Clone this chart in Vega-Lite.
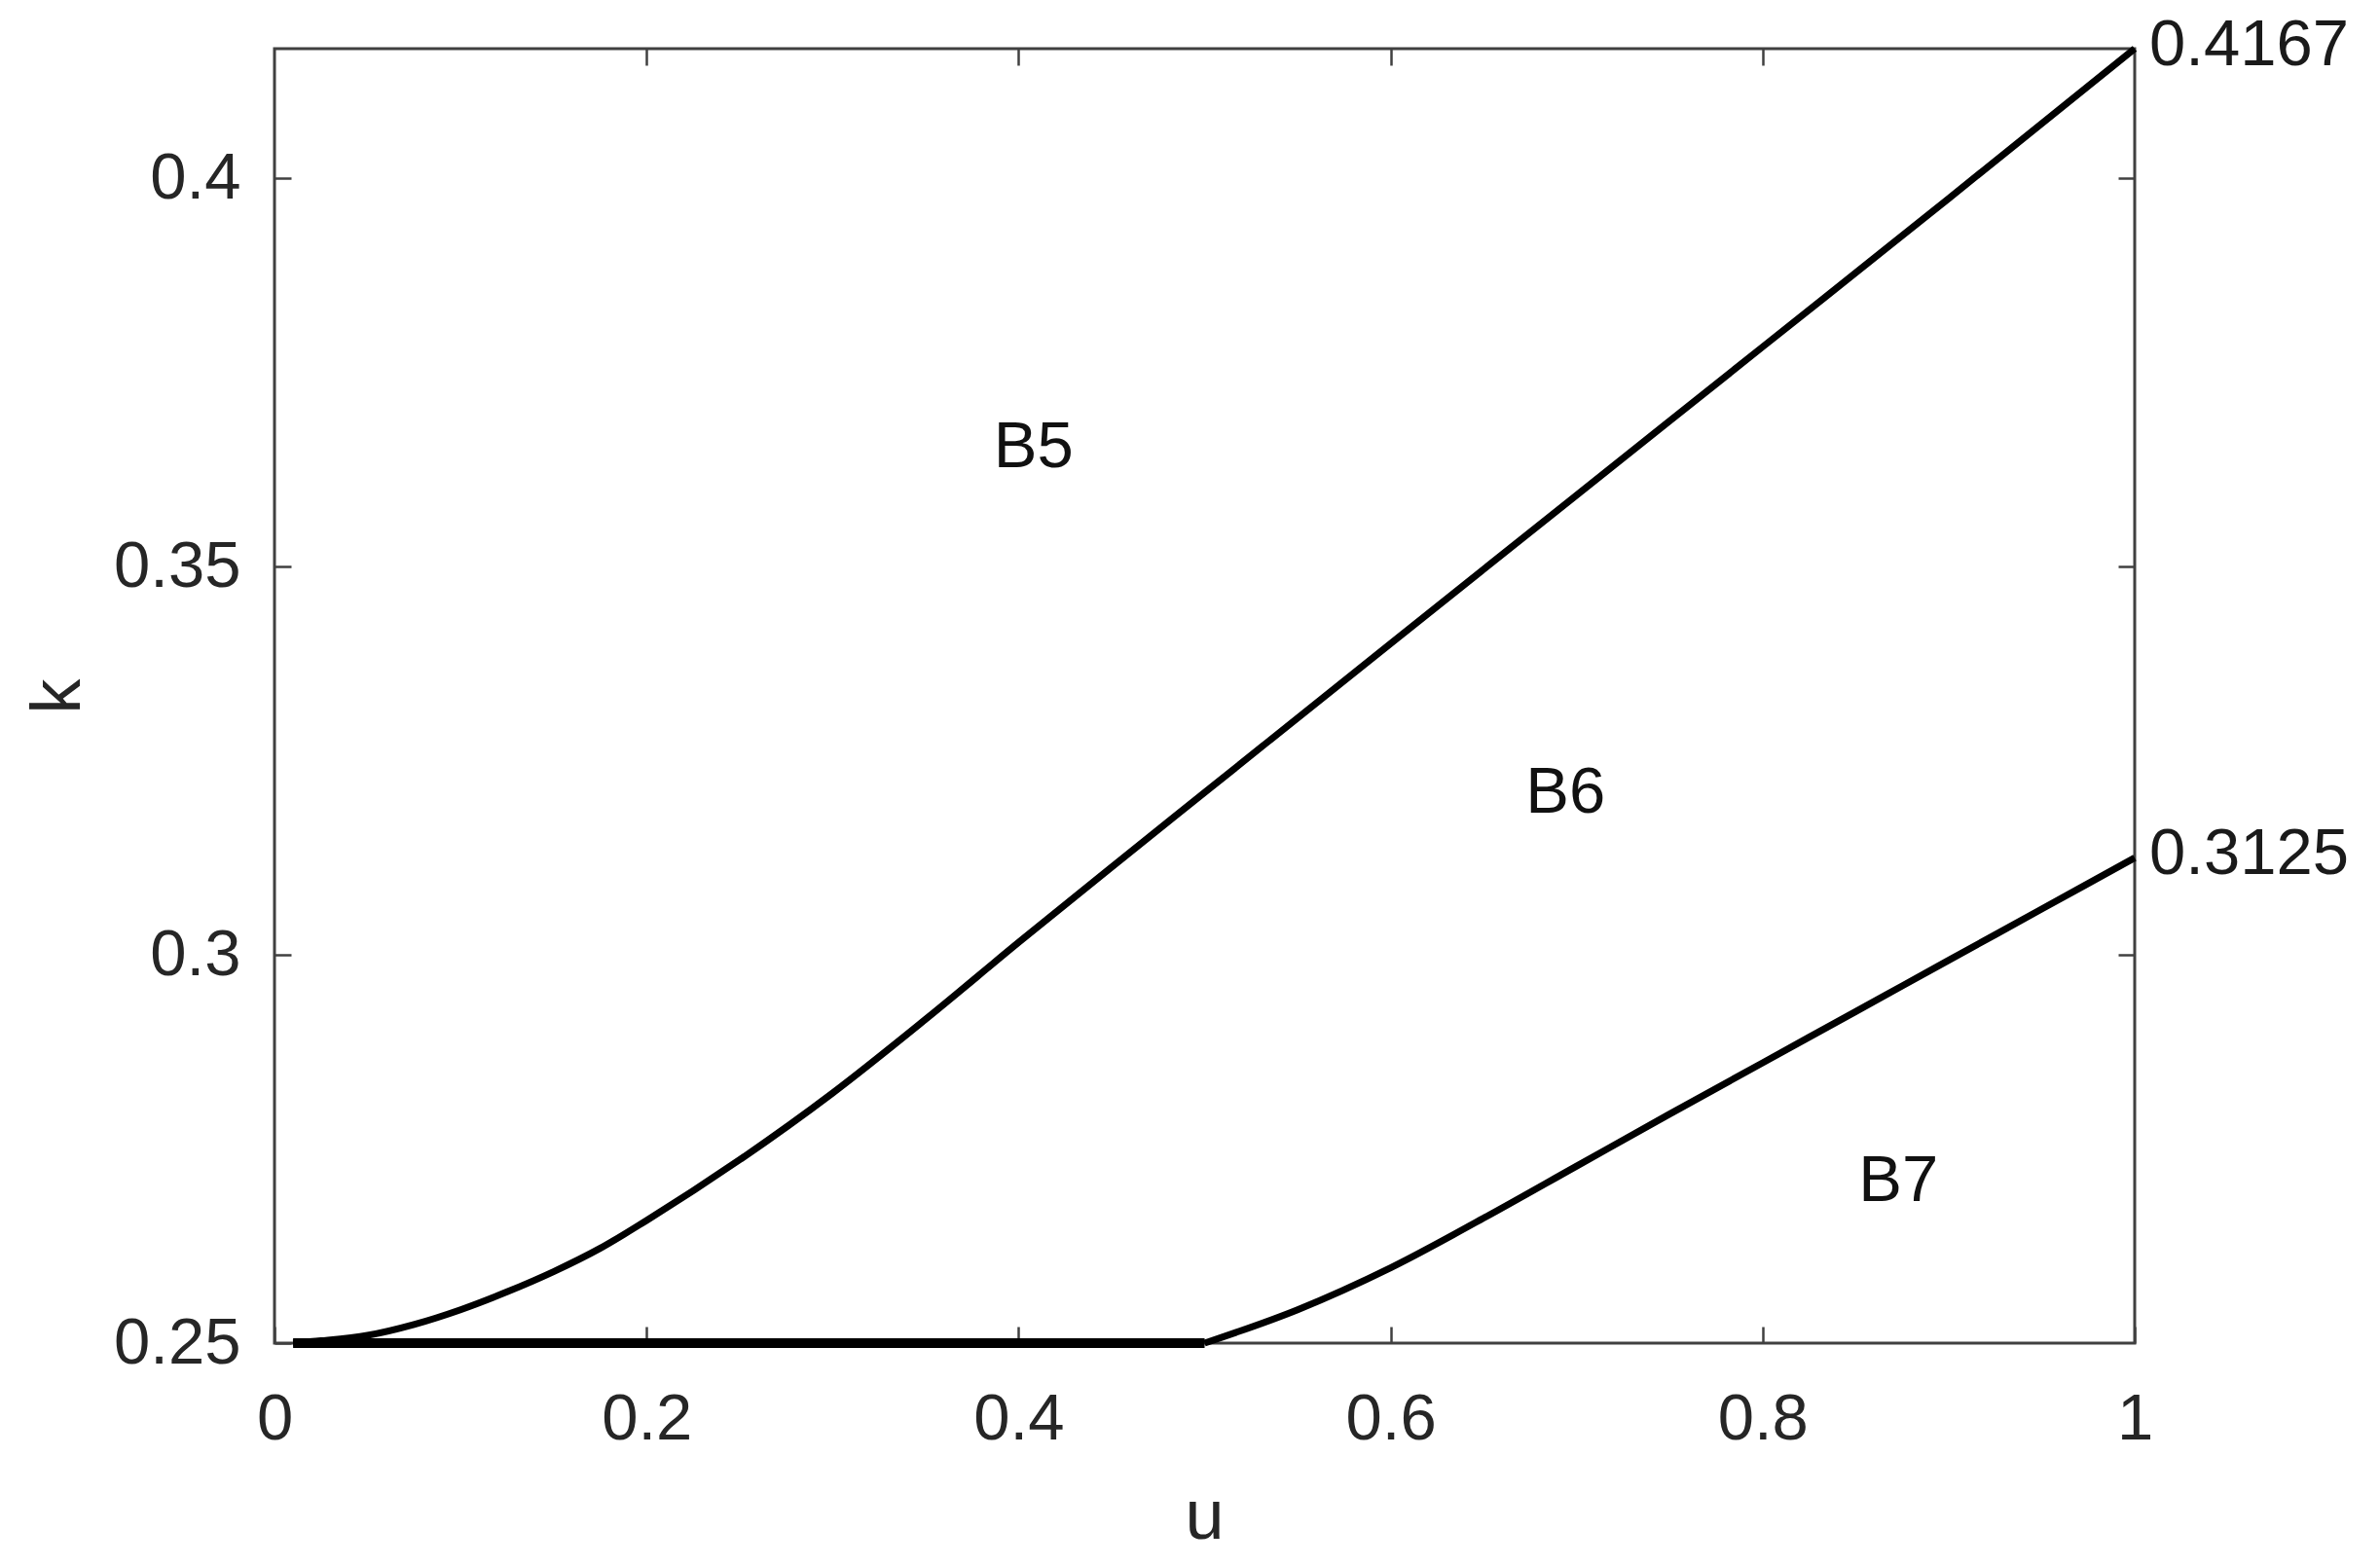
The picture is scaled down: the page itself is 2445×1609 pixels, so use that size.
{
  "$schema": "https://vega.github.io/schema/vega-lite/v6.json",
  "width": 1911,
  "height": 1330,
  "autosize": {"type": "none"},
  "padding": {"left": 282, "top": 50, "right": 252, "bottom": 229},
  "background": "white",
  "config": {
    "view": {"stroke": "#404040", "strokeWidth": 3},
    "font": "Liberation Sans",
    "axis": {
      "domain": false,
      "grid": false,
      "tickColor": "#404040",
      "tickWidth": 2.5,
      "tickSize": -17,
      "labelColor": "#262626",
      "labelFontSize": 67,
      "labelFont": "Liberation Sans",
      "labelFlush": false,
      "titleFont": "Liberation Sans",
      "titleFontSize": 72,
      "titleColor": "#262626",
      "titleFontWeight": "normal"
    }
  },
  "datasets": {
    "curves": [
      {"u": 0.01, "k": 0.25, "series": "upper"},
      {"u": 0.025, "k": 0.2503, "series": "upper"},
      {"u": 0.05, "k": 0.2510, "series": "upper"},
      {"u": 0.075, "k": 0.2524, "series": "upper"},
      {"u": 0.1, "k": 0.2543, "series": "upper"},
      {"u": 0.125, "k": 0.2566, "series": "upper"},
      {"u": 0.15, "k": 0.2592, "series": "upper"},
      {"u": 0.175, "k": 0.2622, "series": "upper"},
      {"u": 0.2, "k": 0.2658, "series": "upper"},
      {"u": 0.25, "k": 0.2736, "series": "upper"},
      {"u": 0.3, "k": 0.2822, "series": "upper"},
      {"u": 0.35, "k": 0.2917, "series": "upper"},
      {"u": 0.4, "k": 0.3016, "series": "upper"},
      {"u": 0.45, "k": 0.3113, "series": "upper"},
      {"u": 0.5, "k": 0.3209, "series": "upper"},
      {"u": 0.6, "k": 0.3401, "series": "upper"},
      {"u": 0.7, "k": 0.3592, "series": "upper"},
      {"u": 0.8, "k": 0.3783, "series": "upper"},
      {"u": 0.9, "k": 0.3974, "series": "upper"},
      {"u": 1.0, "k": 0.4167, "series": "upper"},
      {"u": 0.5, "k": 0.25, "series": "lower"},
      {"u": 0.55, "k": 0.2543, "series": "lower"},
      {"u": 0.6, "k": 0.2597, "series": "lower"},
      {"u": 0.65, "k": 0.2661, "series": "lower"},
      {"u": 0.7, "k": 0.2728, "series": "lower"},
      {"u": 0.75, "k": 0.2795, "series": "lower"},
      {"u": 0.8, "k": 0.2861, "series": "lower"},
      {"u": 0.85, "k": 0.2927, "series": "lower"},
      {"u": 0.9, "k": 0.2993, "series": "lower"},
      {"u": 0.95, "k": 0.3059, "series": "lower"},
      {"u": 1.0, "k": 0.3125, "series": "lower"},
      {"u": 0.01, "k": 0.25, "series": "base"},
      {"u": 0.5, "k": 0.25, "series": "base"}
    ],
    "ends": [
      {"u": 1, "k": 0.4167, "label": "0.4167"},
      {"u": 1, "k": 0.3125, "label": "0.3125"}
    ],
    "regions": [
      {"u": 0.408, "k": 0.3653, "label": "B5"},
      {"u": 0.694, "k": 0.3208, "label": "B6"},
      {"u": 0.873, "k": 0.2708, "label": "B7"}
    ]
  },
  "layer": [
    {
      "data": {"name": "curves"},
      "transform": [{"filter": "datum.series != 'base'"}],
      "mark": {"type": "line", "color": "black", "strokeWidth": 7, "clip": false, "interpolate": "monotone", "strokeJoin": "round"},
      "encoding": {
        "x": {
          "field": "u", "type": "quantitative",
          "scale": {"domain": [0, 1], "nice": false, "zero": false},
          "axis": {
            "orient": "bottom", "values": [0, 0.2, 0.4, 0.6, 0.8, 1], "format": "~g",
            "labelPadding": 62, "labelBaseline": "top",
            "title": "u", "titleBaseline": "alphabetic", "titleY": 200, "titleX": 955
          }
        },
        "y": {
          "field": "k", "type": "quantitative",
          "scale": {"domain": [0.25, 0.4167], "nice": false, "zero": false},
          "axis": {
            "orient": "left", "values": [0.25, 0.3, 0.35, 0.4], "format": "~g",
            "labelPadding": 52, "labelBaseline": "middle",
            "title": "k", "titleAngle": 270, "titleBaseline": "alphabetic", "titleAlign": "center",
            "titleX": -201, "titleY": 665
          }
        },
        "detail": {"field": "series"}
      }
    },
    {
      "data": {"name": "curves"},
      "transform": [{"filter": "datum.series == 'base'"}],
      "mark": {"type": "line", "color": "black", "strokeWidth": 10, "clip": false},
      "encoding": {
        "x": {"field": "u", "type": "quantitative", "axis": null},
        "y": {"field": "k", "type": "quantitative", "axis": null}
      }
    },
    {
      "data": {"name": "ends"},
      "mark": {"type": "text", "align": "left", "baseline": "middle", "dx": 15, "dy": -3, "fontSize": 67, "color": "#1a1a1a", "font": "Liberation Sans"},
      "encoding": {
        "x": {
          "field": "u", "type": "quantitative",
          "axis": {"orient": "top", "values": [0.2, 0.4, 0.6, 0.8], "labels": false, "title": null}
        },
        "y": {
          "field": "k", "type": "quantitative",
          "axis": {"orient": "right", "values": [0.3, 0.35, 0.4], "labels": false, "title": null}
        },
        "text": {"field": "label"}
      }
    },
    {
      "data": {"name": "regions"},
      "mark": {"type": "text", "align": "center", "baseline": "middle", "fontSize": 67, "color": "#111111", "font": "Liberation Sans"},
      "encoding": {
        "x": {"field": "u", "type": "quantitative", "axis": null},
        "y": {"field": "k", "type": "quantitative", "axis": null},
        "text": {"field": "label"}
      }
    }
  ],
  "resolve": {"axis": {"x": "independent", "y": "independent"}}
}
